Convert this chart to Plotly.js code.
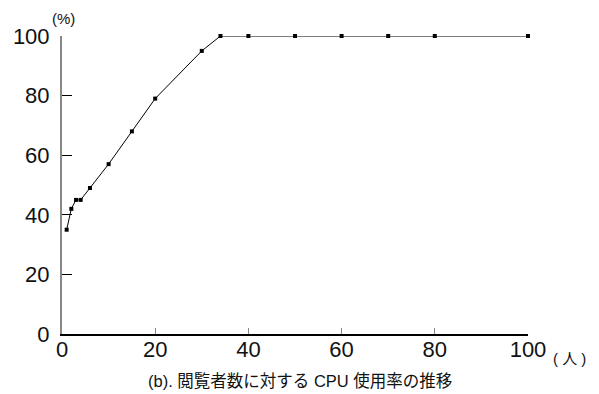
<!DOCTYPE html>
<html><head><meta charset="utf-8">
<script src="https://cdn.plot.ly/plotly-3.0.1.min.js"></script>
<style>html,body{margin:0;padding:0;background:#fff}</style>
</head><body>
<div id="chart" style="width:599px;height:394px"></div>
<script>
const viewers = [1, 2, 3, 4, 6, 10, 15, 20, 30, 34, 40, 50, 60, 70, 80, 100];
const cpuUsage = [35, 42, 45, 45, 49, 57, 68, 79, 95, 100, 100, 100, 100, 100, 100, 100];
const xTicks = [0, 20, 40, 60, 80, 100];
const yTicks = [0, 20, 40, 60, 80, 100];
const FONT = '"Liberation Sans", Arial, "Noto Sans CJK JP", sans-serif';

Plotly.newPlot('chart', [{
  x: viewers, y: cpuUsage, type: 'scatter', mode: 'lines+markers',
  line: {color: '#000', width: 1},
  marker: {symbol: 'square', size: 4, color: '#000'},
  cliponaxis: false
}], {
  width: 599, height: 394,
  margin: {l: 62, r: 71, t: 36, b: 60},
  paper_bgcolor: '#fff', plot_bgcolor: '#fff',
  showlegend: false,
  font: {family: FONT, color: '#111'},
  xaxis: {range: [0, 100], tickvals: xTicks, ticktext: xTicks.map(String),
    ticks: 'inside', ticklen: 6, tickcolor: '#888', tickwidth: 1,
    showline: true, linecolor: '#000', linewidth: 1.5, showgrid: false, zeroline: false,
    tickfont: {size: 22, family: FONT}, ticklabelstandoff: -5, fixedrange: true},
  yaxis: {range: [0, 100], tickvals: yTicks, ticktext: yTicks.map(String),
    ticks: 'inside', ticklen: 10, tickcolor: '#000', tickwidth: 1,
    showline: true, linecolor: '#888', linewidth: 2, showgrid: false, zeroline: false,
    tickfont: {size: 22, family: FONT}, ticklabelstandoff: 6, fixedrange: true},
  annotations: [
    {text: '(%)', xref: 'paper', yref: 'paper', x: 0.004, y: 1.0, xanchor: 'center', yanchor: 'middle', yshift: 18,
     showarrow: false, font: {size: 15, family: FONT}},
    {text: '( 人 )', xref: 'paper', yref: 'paper', x: 1.09, y: 0, xanchor: 'center', yanchor: 'middle', yshift: -24,
     showarrow: false, font: {size: 15, family: FONT}},
    {text: '(b). 閲覧者数に対する CPU 使用率の推移', xref: 'paper', yref: 'paper', x: 0.51, y: 0, xanchor: 'center', yanchor: 'middle', yshift: -47,
     showarrow: false, font: {size: 16.5, family: FONT}}
  ]
}, {staticPlot: true});
</script>
</body></html>
